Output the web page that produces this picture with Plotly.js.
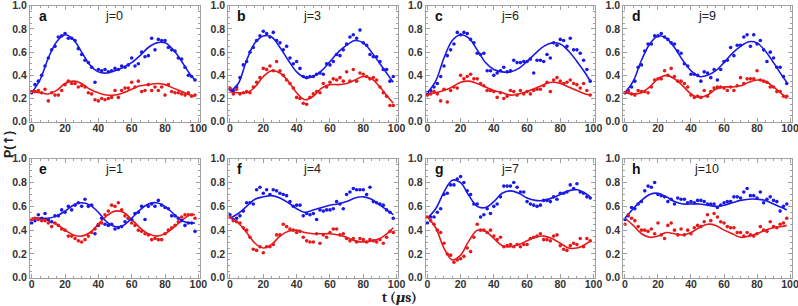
<!DOCTYPE html>
<html><head><meta charset="utf-8">
<script src="https://cdn.plot.ly/plotly-3.0.1.min.js"></script>
<style>html,body{margin:0;padding:0;background:#fff}#chart{width:798px;height:306px}</style>
</head><body><div id="chart"></div>
<script>
// sample times (µs) of the measured points and of the fitted curves
const tData = [0,2,4,6,8,10,12,14,16,18,20,22,24,26,28,30,32,34,36,38,40,42,44,46,48,50,52,54,56,58,60,62,64,66,68,70,72,74,76,78,80,82,84,86,88,90,92,94,96,98];
const tFit = [0,5,10,15,20,25,30,35,40,45,50,55,60,65,70,75,80,85,90,95,98];

const panelLetters = ['a','b','c','d','e','f','g','h'];
const panelTitles = ['j=0','j=3','j=6','j=9','j=1','j=4','j=7','j=10'];
const xTicks = [0,20,40,60,80,100];
const yTicks = [0,0.2,0.4,0.6,0.8,1.0];

// panel a (j=0)
const aBlue = [0.25,0.32,0.35,0.40,0.48,0.55,0.62,0.65,0.73,0.74,0.76,0.72,0.72,0.70,0.63,0.58,0.53,0.51,0.47,0.34,0.45,0.44,0.45,0.43,0.44,0.46,0.45,0.48,0.47,0.49,0.55,0.48,0.50,0.60,0.56,0.57,0.72,0.62,0.71,0.70,0.70,0.64,0.62,0.61,0.55,0.54,0.47,0.40,0.39,0.36];
const aRed = [0.26,0.26,0.27,0.25,0.28,0.18,0.25,0.23,0.23,0.27,0.32,0.35,0.33,0.33,0.30,0.31,0.30,0.25,0.24,0.19,0.18,0.20,0.19,0.20,0.21,0.27,0.21,0.27,0.29,0.29,0.34,0.30,0.35,0.26,0.27,0.32,0.27,0.30,0.27,0.30,0.23,0.32,0.26,0.25,0.25,0.24,0.23,0.25,0.22,0.23];
const aBlueFit = [0.25,0.36,0.55,0.69,0.75,0.71,0.60,0.49,0.43,0.42,0.44,0.47,0.51,0.57,0.64,0.68,0.68,0.62,0.52,0.41,0.36];
const aRedFit = [0.26,0.25,0.24,0.27,0.33,0.35,0.33,0.28,0.25,0.23,0.23,0.25,0.28,0.31,0.32,0.33,0.32,0.29,0.26,0.23,0.22];

// panel b (j=3)
const bBlue = [0.28,0.27,0.30,0.38,0.49,0.52,0.60,0.64,0.70,0.74,0.78,0.76,0.73,0.77,0.70,0.68,0.62,0.65,0.55,0.50,0.52,0.46,0.39,0.38,0.39,0.39,0.41,0.42,0.41,0.50,0.49,0.52,0.58,0.57,0.62,0.67,0.73,0.75,0.72,0.79,0.68,0.66,0.58,0.56,0.56,0.52,0.45,0.45,0.35,0.39];
const bRed = [0.29,0.24,0.28,0.24,0.25,0.26,0.25,0.30,0.34,0.38,0.46,0.45,0.48,0.44,0.52,0.44,0.40,0.36,0.33,0.29,0.21,0.20,0.16,0.15,0.21,0.24,0.26,0.25,0.33,0.30,0.34,0.37,0.36,0.38,0.35,0.43,0.35,0.45,0.35,0.42,0.41,0.39,0.37,0.38,0.36,0.30,0.25,0.22,0.14,0.14];
const bBlueFit = [0.26,0.33,0.53,0.68,0.74,0.73,0.64,0.53,0.43,0.38,0.39,0.44,0.52,0.60,0.66,0.70,0.68,0.60,0.50,0.40,0.34];
const bRedFit = [0.26,0.25,0.25,0.30,0.39,0.44,0.42,0.35,0.25,0.19,0.22,0.29,0.32,0.32,0.33,0.36,0.39,0.37,0.30,0.21,0.16];

// panel c (j=6)
const cBlue = [0.25,0.27,0.30,0.33,0.39,0.48,0.57,0.62,0.67,0.77,0.75,0.77,0.76,0.71,0.68,0.59,0.58,0.59,0.44,0.44,0.40,0.42,0.44,0.47,0.43,0.44,0.53,0.51,0.51,0.52,0.52,0.54,0.42,0.53,0.53,0.52,0.58,0.55,0.68,0.66,0.71,0.70,0.65,0.72,0.62,0.62,0.59,0.53,0.45,0.35];
const cRed = [0.23,0.24,0.26,0.24,0.18,0.28,0.17,0.27,0.30,0.29,0.40,0.37,0.39,0.41,0.37,0.37,0.33,0.31,0.27,0.27,0.26,0.21,0.25,0.20,0.22,0.27,0.26,0.23,0.27,0.24,0.26,0.24,0.27,0.28,0.28,0.31,0.34,0.26,0.36,0.38,0.35,0.33,0.34,0.36,0.33,0.32,0.29,0.33,0.27,0.23];
const cBlueFit = [0.25,0.35,0.55,0.70,0.75,0.72,0.62,0.51,0.45,0.43,0.43,0.46,0.52,0.59,0.65,0.68,0.67,0.61,0.52,0.42,0.35];
const cRedFit = [0.24,0.25,0.27,0.30,0.34,0.35,0.33,0.30,0.27,0.25,0.23,0.24,0.26,0.29,0.32,0.34,0.33,0.30,0.27,0.24,0.23];

// panel d (j=9)
const dBlue = [0.25,0.27,0.30,0.35,0.47,0.49,0.61,0.67,0.67,0.74,0.74,0.76,0.73,0.71,0.68,0.67,0.61,0.59,0.50,0.48,0.41,0.41,0.40,0.35,0.43,0.42,0.38,0.45,0.36,0.45,0.52,0.53,0.64,0.57,0.66,0.66,0.73,0.75,0.65,0.75,0.67,0.70,0.62,0.52,0.60,0.55,0.47,0.47,0.39,0.33];
const dRed = [0.25,0.26,0.24,0.23,0.27,0.26,0.26,0.25,0.30,0.36,0.37,0.37,0.44,0.40,0.46,0.39,0.35,0.35,0.33,0.30,0.23,0.21,0.22,0.21,0.27,0.22,0.26,0.29,0.30,0.30,0.29,0.27,0.30,0.27,0.31,0.38,0.33,0.37,0.37,0.37,0.44,0.36,0.35,0.34,0.30,0.30,0.26,0.26,0.22,0.22];
const dBlueFit = [0.25,0.35,0.53,0.67,0.74,0.72,0.64,0.53,0.44,0.39,0.40,0.44,0.51,0.59,0.65,0.69,0.68,0.61,0.51,0.40,0.34];
const dRedFit = [0.25,0.24,0.25,0.30,0.37,0.40,0.37,0.31,0.24,0.21,0.23,0.28,0.30,0.30,0.31,0.34,0.36,0.35,0.30,0.24,0.20];

// panel e (j=1)
const eBlue = [0.46,0.48,0.53,0.50,0.54,0.49,0.47,0.52,0.52,0.57,0.55,0.60,0.57,0.61,0.63,0.60,0.66,0.60,0.61,0.37,0.44,0.50,0.45,0.44,0.45,0.41,0.42,0.43,0.47,0.50,0.49,0.54,0.55,0.60,0.49,0.60,0.62,0.60,0.65,0.61,0.59,0.58,0.52,0.52,0.50,0.48,0.44,0.46,0.46,0.39];
const eRed = [0.49,0.50,0.49,0.48,0.48,0.46,0.43,0.46,0.44,0.41,0.40,0.35,0.35,0.33,0.31,0.30,0.32,0.35,0.38,0.41,0.45,0.46,0.53,0.56,0.61,0.60,0.63,0.57,0.52,0.50,0.46,0.44,0.40,0.39,0.37,0.36,0.32,0.33,0.32,0.32,0.37,0.40,0.42,0.44,0.47,0.51,0.53,0.53,0.53,0.50];
const eBlueFit = [0.50,0.50,0.50,0.52,0.56,0.61,0.63,0.61,0.55,0.47,0.43,0.44,0.50,0.57,0.62,0.63,0.60,0.54,0.48,0.46,0.46];
const eRedFit = [0.50,0.50,0.48,0.45,0.40,0.36,0.35,0.38,0.45,0.52,0.56,0.55,0.49,0.42,0.37,0.35,0.37,0.42,0.48,0.53,0.53];

// panel f (j=4)
const fBlue = [0.53,0.49,0.50,0.52,0.56,0.63,0.63,0.62,0.74,0.76,0.71,0.74,0.70,0.74,0.73,0.71,0.70,0.69,0.64,0.60,0.61,0.61,0.52,0.54,0.53,0.54,0.49,0.57,0.56,0.57,0.57,0.58,0.64,0.62,0.58,0.70,0.72,0.75,0.74,0.74,0.74,0.70,0.76,0.64,0.63,0.62,0.61,0.57,0.55,0.50];
const fRed = [0.51,0.48,0.47,0.46,0.42,0.40,0.34,0.24,0.23,0.26,0.21,0.26,0.26,0.28,0.36,0.36,0.45,0.43,0.41,0.40,0.38,0.39,0.34,0.31,0.30,0.30,0.37,0.29,0.36,0.34,0.38,0.41,0.41,0.36,0.37,0.33,0.31,0.33,0.30,0.33,0.32,0.30,0.32,0.31,0.30,0.32,0.29,0.34,0.39,0.38];
const fBlueFit = [0.50,0.54,0.60,0.66,0.68,0.69,0.67,0.63,0.58,0.55,0.57,0.59,0.61,0.62,0.64,0.67,0.68,0.66,0.61,0.56,0.53];
const fRedFit = [0.51,0.46,0.38,0.29,0.25,0.28,0.35,0.39,0.40,0.38,0.37,0.37,0.37,0.36,0.34,0.31,0.30,0.31,0.33,0.38,0.42];

// panel g (j=7)
const gBlue = [0.46,0.51,0.51,0.55,0.58,0.70,0.71,0.78,0.78,0.83,0.85,0.80,0.73,0.70,0.62,0.62,0.51,0.53,0.58,0.54,0.60,0.62,0.68,0.77,0.77,0.77,0.80,0.76,0.72,0.72,0.64,0.62,0.61,0.60,0.61,0.65,0.65,0.64,0.68,0.66,0.71,0.71,0.72,0.78,0.75,0.79,0.72,0.71,0.68,0.67];
const gRed = [0.51,0.48,0.45,0.40,0.38,0.29,0.20,0.19,0.13,0.15,0.16,0.18,0.25,0.22,0.34,0.45,0.40,0.40,0.38,0.40,0.35,0.32,0.34,0.26,0.27,0.28,0.26,0.28,0.26,0.28,0.28,0.33,0.34,0.35,0.37,0.32,0.32,0.31,0.35,0.36,0.27,0.24,0.23,0.27,0.29,0.28,0.33,0.26,0.33,0.31];
const gBlueFit = [0.50,0.58,0.72,0.82,0.80,0.69,0.60,0.59,0.64,0.71,0.73,0.71,0.67,0.65,0.65,0.67,0.70,0.73,0.74,0.71,0.68];
const gRedFit = [0.51,0.42,0.25,0.15,0.19,0.31,0.40,0.39,0.33,0.27,0.26,0.28,0.31,0.34,0.35,0.33,0.29,0.25,0.25,0.28,0.31];

// panel h (j=10)
const hBlue = [0.49,0.52,0.59,0.58,0.62,0.64,0.73,0.77,0.76,0.80,0.70,0.69,0.68,0.64,0.66,0.62,0.67,0.66,0.66,0.63,0.64,0.63,0.65,0.65,0.64,0.62,0.62,0.62,0.59,0.61,0.63,0.64,0.64,0.68,0.68,0.67,0.72,0.75,0.69,0.69,0.67,0.72,0.63,0.66,0.68,0.65,0.64,0.56,0.60,0.62];
const hRed = [0.45,0.53,0.50,0.48,0.43,0.40,0.40,0.39,0.41,0.37,0.46,0.36,0.33,0.44,0.46,0.40,0.36,0.41,0.36,0.40,0.37,0.42,0.44,0.43,0.47,0.53,0.48,0.54,0.51,0.47,0.46,0.43,0.42,0.42,0.38,0.38,0.35,0.38,0.36,0.35,0.37,0.43,0.40,0.39,0.47,0.43,0.42,0.45,0.46,0.50];
const hBlueFit = [0.50,0.58,0.65,0.70,0.71,0.68,0.64,0.62,0.62,0.62,0.61,0.60,0.61,0.63,0.65,0.66,0.66,0.65,0.62,0.59,0.57];
const hRedFit = [0.50,0.44,0.37,0.34,0.35,0.38,0.37,0.36,0.38,0.42,0.45,0.44,0.40,0.37,0.34,0.35,0.37,0.40,0.42,0.43,0.44];

const blueDots = [aBlue,bBlue,cBlue,dBlue,eBlue,fBlue,gBlue,hBlue];
const redDots = [aRed,bRed,cRed,dRed,eRed,fRed,gRed,hRed];
const blueFits = [aBlueFit,bBlueFit,cBlueFit,dBlueFit,eBlueFit,fBlueFit,gBlueFit,hBlueFit];
const redFits = [aRedFit,bRedFit,cRedFit,dRedFit,eRedFit,fRedFit,gRedFit,hRedFit];

const BLUE = '#1a1ae6', RED = '#e61a1a';
const W = 798, H = 306;
// frame pixel extents
const colPx = [[30,200],[228.3,398.3],[425.7,595.2],[623.3,791.7]];
const rowPx = [[5.5,122],[158.5,278]];

const traces = [];
const layout = {
  width: W, height: H, margin: {l:0,r:0,t:0,b:0},
  paper_bgcolor: '#fff', plot_bgcolor: '#fff', showlegend: false,
  annotations: [], font: {family: 'Arial, "Liberation Sans", sans-serif'}
};
for (let i = 0; i < 8; i++) {
  const r = Math.floor(i/4), c = i % 4;
  const n = i + 1;
  const xa = 'x' + (n === 1 ? '' : n), ya = 'y' + (n === 1 ? '' : n);
  const axKeyX = 'xaxis' + (n === 1 ? '' : n), axKeyY = 'yaxis' + (n === 1 ? '' : n);
  traces.push({x: tFit, y: blueFits[i], xaxis: xa, yaxis: ya, mode: 'lines', line: {color: BLUE, width: 1.6, shape: 'spline', smoothing: 1}, hoverinfo: 'skip'});
  traces.push({x: tFit, y: redFits[i], xaxis: xa, yaxis: ya, mode: 'lines', line: {color: RED, width: 1.6, shape: 'spline', smoothing: 1}, hoverinfo: 'skip'});
  traces.push({x: tData, y: blueDots[i], xaxis: xa, yaxis: ya, mode: 'markers', marker: {color: BLUE, size: 3.6}});
  traces.push({x: tData, y: redDots[i], xaxis: xa, yaxis: ya, mode: 'markers', marker: {color: RED, size: 3.6}});
  const common = {
    showline: true, linecolor: '#a0a0a0', linewidth: 1, mirror: 'allticks',
    ticks: 'inside', ticklen: 4, tickcolor: '#a0a0a0', tickwidth: 1,
    showgrid: false, zeroline: false, fixedrange: true, ticklabeloverflow: 'allow',
    tickfont: {size: 10.5, color: '#333', weight: 'bold', family: 'Arial, "Liberation Sans", sans-serif'}
  };
  layout[axKeyX] = Object.assign({}, common, {
    domain: [colPx[c][0]/W, colPx[c][1]/W], anchor: ya, range: [-1, 101],
    tickmode: 'array', tickvals: xTicks, ticktext: xTicks.map(String), ticklabelstandoff: -4,
    minor: {dtick: 5, ticks: 'inside', ticklen: 2, tickcolor: '#a0a0a0'}
  });
  layout[axKeyY] = Object.assign({}, common, {
    domain: [1 - rowPx[r][1]/H, 1 - rowPx[r][0]/H], anchor: xa, range: [-0.002, 1.002],
    tickmode: 'array', tickvals: yTicks, ticktext: yTicks.map(v => v.toFixed(1)),
    minor: {dtick: 0.05, ticks: 'inside', ticklen: 2, tickcolor: '#a0a0a0'}
  });
  const x0 = colPx[c][0], x1 = colPx[c][1], y0 = rowPx[r][0];
  layout.annotations.push({xref: 'paper', yref: 'paper', x: (x0 + 7)/W, y: 1 - (y0 + 10)/H,
    text: '<b>' + panelLetters[i] + '</b>', showarrow: false, xanchor: 'left', yanchor: 'middle',
    font: {size: 14, color: '#111'}});
  layout.annotations.push({xref: 'paper', yref: 'paper', x: (x0 + (x1 - x0)*0.495)/W, y: 1 - (y0 + 10)/H,
    text: panelTitles[i], showarrow: false, xanchor: 'center', yanchor: 'middle',
    font: {size: 12.5, color: '#222'}});
}
layout.annotations.push({xref: 'paper', yref: 'paper', x: 8/W, y: 1 - 145/H,
  text: '<b>P(<span style="font-family:\'DejaVu Sans\'">↑</span>)</b>',
  showarrow: false, textangle: -90, xanchor: 'center', yanchor: 'middle', font: {size: 12.5, color: '#222'}});
layout.annotations.push({xref: 'paper', yref: 'paper', x: 399/W, y: 1 - 297/H, text: '<b>t (<i>μ</i>s)</b>',
  showarrow: false, xanchor: 'center', yanchor: 'middle', font: {size: 13.5, color: '#222', family: 'Cambria, "DejaVu Serif", serif'}});

Plotly.newPlot('chart', traces, layout, {staticPlot: true, displayModeBar: false});
</script></body></html>
